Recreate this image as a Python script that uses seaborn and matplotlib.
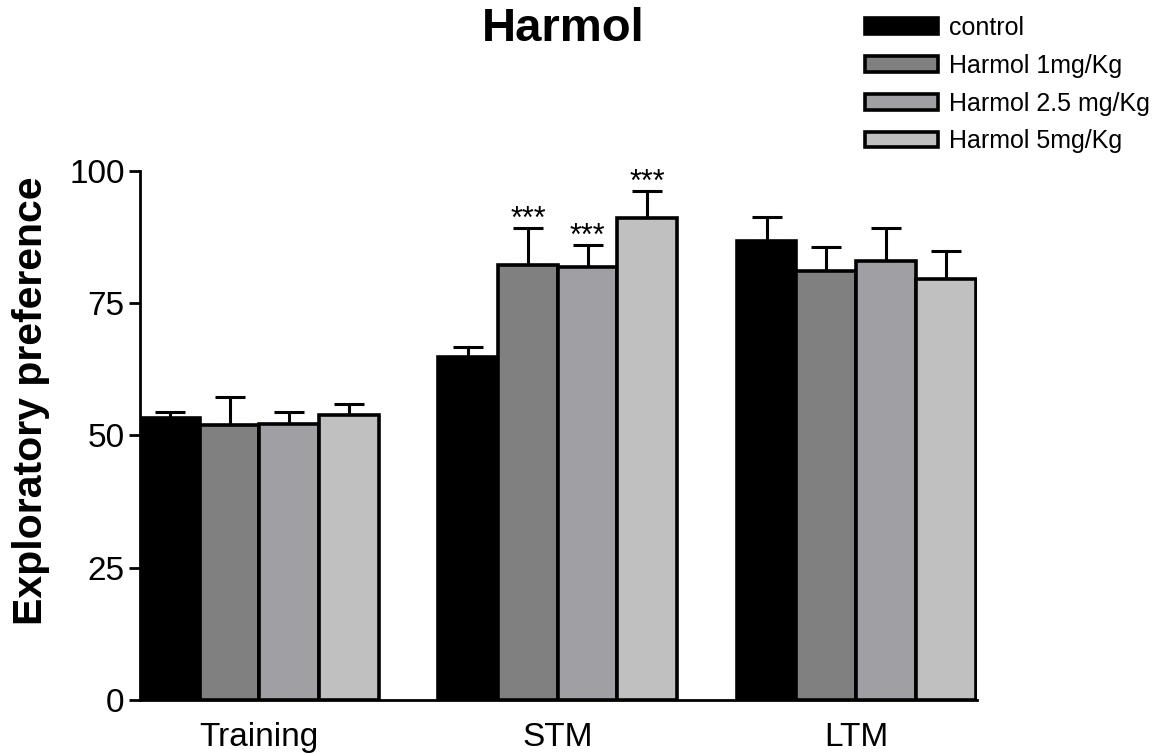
import pandas as pd
import matplotlib
matplotlib.use("Agg")
import matplotlib.pyplot as plt
import seaborn as sns

# Data
phases = ["Training", "STM", "LTM"]
groups = ["control", "Harmol 1mg/Kg", "Harmol 2.5 mg/Kg", "Harmol 5mg/Kg"]
means = {
    "control":          [53.3, 64.8, 86.8],
    "Harmol 1mg/Kg":    [52.0, 82.2, 81.1],
    "Harmol 2.5 mg/Kg": [52.2, 81.9, 83.0],
    "Harmol 5mg/Kg":    [53.9, 91.1, 79.6],
}
sems = {
    "control":          [1.1, 1.9, 4.5],
    "Harmol 1mg/Kg":    [5.3, 7.0, 4.5],
    "Harmol 2.5 mg/Kg": [2.2, 4.1, 6.2],
    "Harmol 5mg/Kg":    [2.1, 5.1, 5.3],
}
# significance marks: (phase, group)
stars = [("STM", "Harmol 1mg/Kg"), ("STM", "Harmol 2.5 mg/Kg"), ("STM", "Harmol 5mg/Kg")]
colors = ["#000000", "#808080", "#a0a0a4", "#c0c0c0"]
yticks = [0, 25, 50, 75, 100]

rows = []
for g in groups:
    for p, m, s in zip(phases, means[g], sems[g]):
        rows.append({"Phase": p, "Group": g, "Value": m, "SEM": s})
df = pd.DataFrame(rows)

sns.set_style("ticks", {"axes.edgecolor": "black", "text.color": "black",
                        "xtick.color": "black", "ytick.color": "black",
                        "axes.labelcolor": "black"})
plt.rcParams["font.family"] = ["Liberation Sans", "DejaVu Sans"]

fig = plt.figure(figsize=(11.7, 7.53), dpi=100)
ax = fig.add_axes([140 / 1170, 1 - 700 / 753, 837 / 1170, 529 / 753])

sns.barplot(data=df, x="Phase", y="Value", hue="Group", order=phases,
            hue_order=groups, palette=colors, edgecolor="black", linewidth=2.6,
            errorbar=None, width=0.8, ax=ax, zorder=3)
bar_containers = list(ax.containers)

# upward-only error bars on top of each bar
for g, cont in zip(groups, bar_containers):
    xs = [b.get_x() + b.get_width() / 2 for b in cont]
    ys = means[g]
    err = sems[g]
    ax.errorbar(xs, ys, yerr=[[0] * len(err), err], fmt="none", ecolor="black",
                elinewidth=2.2, capsize=11, capthick=2.2, zorder=2)
    for x, y, e, p in zip(xs, ys, err, phases):
        if (p, g) in stars:
            ax.text(x, y + e - 1.3, "***", ha="center", va="bottom", fontsize=22)

ax.set_xlim(-0.4, 2.405)
ax.set_ylim(0, 100)
ax.set_yticks(yticks)
ax.tick_params(axis="y", labelsize=24, length=8, width=2, pad=3)
ax.tick_params(axis="x", labelsize=24, length=0, pad=16)
ax.set_xlabel("")
ax.set_ylabel("Exploratory preference", fontsize=29.5, fontweight="bold")
ax.yaxis.set_label_coords(-0.107, 0.565)
for sp in ["top", "right"]:
    ax.spines[sp].set_visible(False)
for sp in ["left", "bottom"]:
    ax.spines[sp].set_linewidth(2)

ax.get_legend().remove()
handles = [cont.patches[0] for cont in bar_containers]
fig.legend(handles, groups, loc="upper left", bbox_to_anchor=(865 / 1170, 1 - 16 / 753),
           frameon=False, fontsize=18, handlelength=2.9, handleheight=0.6,
           handletextpad=0.45, labelspacing=0.55, borderpad=0, borderaxespad=0)

fig.text(563 / 1170, 1 - 29 / 753, "Harmol", ha="center", va="center",
         fontsize=34, fontweight="bold")

fig.savefig("out.png", dpi=100)
